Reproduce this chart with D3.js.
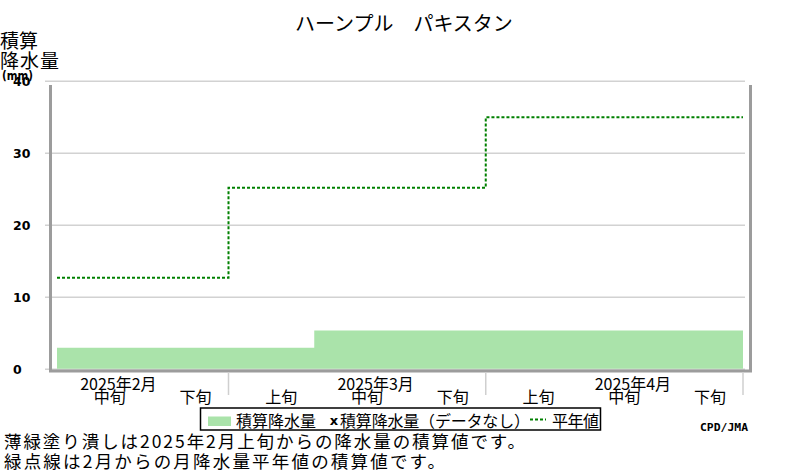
<!DOCTYPE html>
<html><head><meta charset="utf-8">
<script src="https://cdn.jsdelivr.net/npm/d3@7"></script>
<style>
html,body{margin:0;padding:0;background:#fff;}
svg{display:block;}
text{font-family:"Noto Sans CJK JP","Noto Sans",sans-serif;fill:#000;}
</style></head>
<body>
<script>
const title = "ハーンプル　パキスタン";
const dekadLabels = ["中旬","下旬","上旬","中旬","下旬","上旬","中旬","下旬"];
const monthLabels = ["2025年2月","2025年3月","2025年4月"];
const monthStartDekad = [0, 2, 5];      // index of first visible dekad of each month
const monthLabelDekad = [0, 3, 6];      // dekad under which month label sits (中旬)
const accumPrecip = [3.0, 3.0, 3.0, 5.4, 5.4, 5.4, 5.4, 5.4];
const normalAccum = [12.7, 25.2, 35.0];
const yTicks = [0, 10, 20, 30, 40];

const W = 800, H = 470;
const svg = d3.select("body").append("svg").attr("width", W).attr("height", H);

const x = d3.scaleLinear().domain([0, dekadLabels.length]).range([57, 743]);
const y = d3.scaleLinear().domain([0, 40]).range([369.3, 81.3]);

// gridlines
svg.append("g").selectAll("line").data(yTicks).join("line")
  .attr("x1", 45).attr("x2", 745)
  .attr("y1", d => y(d)).attr("y2", d => y(d))
  .attr("stroke", "#d2d2d2").attr("stroke-width", 1.5);

// tick labels
svg.append("g").selectAll("text").data(yTicks).join("text")
  .attr("x", 13).attr("y", d => y(d)).attr("dy", "0.36em")
  .style("font-family", "'DejaVu Sans',sans-serif").style("font-weight", "bold")
  .style("font-size", "12.5px").attr("fill", "#222")
  .text(d => d);

// accumulated precipitation fill
const areaPts = accumPrecip.map((v, i) => [i, v]).concat([[accumPrecip.length, accumPrecip[accumPrecip.length - 1]]]);
svg.append("path").datum(areaPts)
  .attr("d", d3.area().curve(d3.curveStepAfter).x(d => x(d[0])).y0(y(0) - 0.6).y1(d => y(d[1])))
  .attr("fill", "#aae3aa");

// normal line (stepped)
const normPts = normalAccum.map((v, i) => [monthStartDekad[i], v]).concat([[dekadLabels.length, normalAccum[normalAccum.length - 1]]]);
svg.append("path").datum(normPts)
  .attr("d", d3.line().curve(d3.curveStepAfter).x(d => x(d[0])).y(d => y(d[1])))
  .attr("fill", "none").attr("stroke", "#008000").attr("stroke-width", 2)
  .attr("stroke-dasharray", "3,2");

// frame (gray bars)
const frameColor = "#9c9c9c";
svg.append("rect").attr("x", 49).attr("y", 85).attr("width", 3).attr("height", 287).attr("fill", frameColor);
svg.append("rect").attr("x", 749).attr("y", 85).attr("width", 3).attr("height", 287).attr("fill", frameColor);
svg.append("rect").attr("x", 49).attr("y", 369.5).attr("width", 703).attr("height", 3).attr("fill", frameColor);

// month separators
const seps = monthStartDekad.slice(1).concat([dekadLabels.length]);
svg.append("g").selectAll("line").data(seps).join("line")
  .attr("x1", d => x(d)).attr("x2", d => x(d))
  .attr("y1", 372).attr("y2", 395)
  .attr("stroke", "#cfcfcf").attr("stroke-width", 1.5);

// dekad labels
svg.append("g").selectAll("text").data(dekadLabels).join("text")
  .attr("x", (d, i) => x(i + 0.5) + 10).attr("y", 395.5)
  .attr("text-anchor", "middle").attr("dominant-baseline", "central")
  .style("font-size", "16px").attr("fill", "#222")
  .text(d => d);

// month labels
svg.append("g").selectAll("text").data(monthLabels).join("text")
  .attr("x", (d, i) => x(monthLabelDekad[i] + 0.5) + 18.5).attr("y", 382.5)
  .attr("text-anchor", "middle").attr("dominant-baseline", "central")
  .style("font-size", "16px").attr("fill", "#222")
  .text(d => d);

// title
svg.append("text").attr("x", 295).attr("y", 22.5)
  .attr("dominant-baseline", "central")
  .style("font-size", "20px").text(title);

// y axis title
svg.append("text").attr("x", 0).attr("y", 39.5).attr("dominant-baseline", "central")
  .attr("textLength", 38).style("font-size", "19px").text("積算");
svg.append("text").attr("x", 0).attr("y", 59).attr("dominant-baseline", "central")
  .attr("textLength", 59).style("font-size", "19px").text("降水量");
svg.append("text").attr("x", 2).attr("y", 75).attr("dominant-baseline", "central")
  .attr("textLength", 31).attr("lengthAdjust", "spacingAndGlyphs")
  .style("font-family", "'DejaVu Sans',sans-serif").style("font-weight", "bold")
  .style("font-size", "12.5px").attr("fill", "#222").text("(mm)");

// legend
const lg = svg.append("g");
lg.append("rect").attr("x", 200.5).attr("y", 408).attr("width", 400).attr("height", 22)
  .attr("fill", "#fff").attr("stroke", "#000").attr("stroke-width", 1.5);
lg.append("rect").attr("x", 208).attr("y", 416.5).attr("width", 23).attr("height", 9.5).attr("fill", "#aae3aa");
lg.append("text").attr("x", 236).attr("y", 419.5).attr("dominant-baseline", "central")
  .attr("textLength", 80).style("font-size", "16px").text("積算降水量");
lg.append("text").attr("x", 334).attr("y", 420).attr("dominant-baseline", "central")
  .attr("text-anchor", "middle")
  .style("font-family", "'DejaVu Sans',sans-serif").style("font-weight", "bold")
  .style("font-size", "13px").text("x");
lg.append("text").attr("x", 340).attr("y", 419.5).attr("dominant-baseline", "central")
  .attr("textLength", 190).style("font-size", "16px").text("積算降水量（データなし）");
lg.append("line").attr("x1", 530).attr("x2", 546).attr("y1", 419.5).attr("y2", 419.5)
  .attr("stroke", "#008000").attr("stroke-width", 2).attr("stroke-dasharray", "3,2");
lg.append("text").attr("x", 552).attr("y", 419.5).attr("dominant-baseline", "central")
  .attr("textLength", 47).style("font-size", "16px").text("平年値");

// credit
svg.append("text").attr("x", 700).attr("y", 427).attr("dominant-baseline", "central")
  .attr("textLength", 48).attr("lengthAdjust", "spacingAndGlyphs")
  .style("font-family", "'DejaVu Sans Mono',monospace").style("font-weight", "bold")
  .style("font-size", "11px").attr("fill", "#222").text("CPD/JMA");

// footnotes
svg.append("text").attr("x", 4).attr("y", 440.5).attr("dominant-baseline", "central")
  .attr("textLength", 521).style("font-size", "17.5px")
  .text("薄緑塗り潰しは2025年2月上旬からの降水量の積算値です。");
svg.append("text").attr("x", 4).attr("y", 460).attr("dominant-baseline", "central")
  .attr("textLength", 441).style("font-size", "17.5px")
  .text("緑点線は2月からの月降水量平年値の積算値です。");
</script>
</body></html>
